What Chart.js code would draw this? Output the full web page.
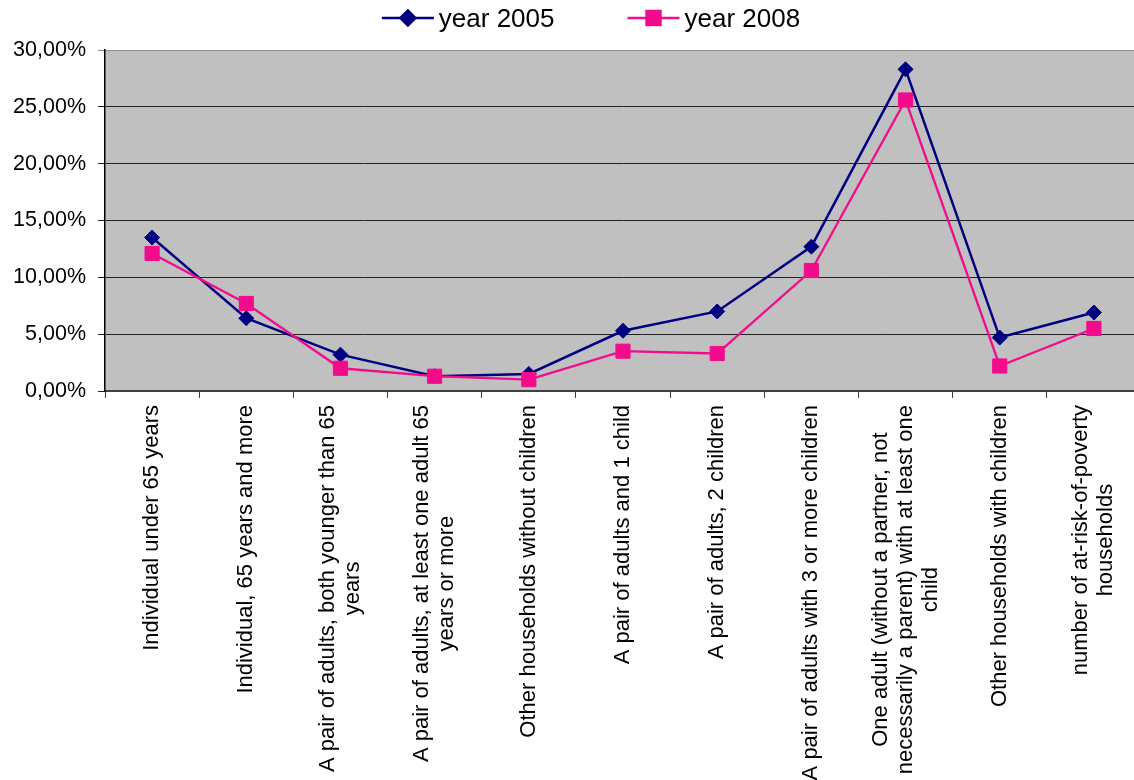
<!DOCTYPE html>
<html>
<head>
<meta charset="utf-8">
<title>At-risk-of-poverty rate by household type</title>
<script src="https://cdn.jsdelivr.net/npm/chart.js@4.4.1/dist/chart.umd.min.js"></script>
<style>
  html, body { margin: 0; padding: 0; background: #fff; overflow: hidden; }
  #wrap { width: 1141px; height: 780px; }
  canvas { display: block; }
</style>
</head>
<body>
<div id="wrap"><canvas id="chart" width="1141" height="780"></canvas></div>
<script>
// Household types (each entry is the wrapped label, one string per line)
const categories = [
  ["Individual under 65 years"],
  ["Individual, 65 years and more"],
  ["A pair of adults, both younger than 65", "years"],
  ["A pair of adults, at least one adult 65", "years or more"],
  ["Other households without children"],
  ["A pair of adults and 1 child"],
  ["A pair of adults, 2 children"],
  ["A pair of adults with 3 or more children"],
  ["One adult (without a partner, not", "necessarily a parent) with at least one", "child"],
  ["Other households with children"],
  ["number of at-risk-of-poverty", "households"]
];

// At-risk-of-poverty rate, in percent
const year2005 = [13.5, 6.4, 3.2, 1.3, 1.5, 5.3, 7.0, 12.7, 28.3, 4.7, 6.9];
const year2008 = [12.1, 7.7, 2.0, 1.3, 1.0, 3.5, 3.3, 10.6, 25.6, 2.2, 5.5];

const seriesNames = ["year 2005", "year 2008"];

// Value axis range and step
const yMin = 0;
const yMax = 30;
const yStep = 5;

const FONT = "Arial, 'Liberation Sans', sans-serif";
const NAVY = "#000080";
const PINK = "#F20C8C";

// Grey plot background
const plotBackground = {
  id: "plotBackground",
  beforeDraw(chart) {
    const { ctx, chartArea: a } = chart;
    ctx.save();
    ctx.fillStyle = "#C0C0C0";
    ctx.fillRect(a.left, a.top, a.right - a.left, a.bottom - a.top);
    ctx.restore();
  }
};

// Vertical category labels, lines centred on each other
const verticalLabels = {
  id: "verticalLabels",
  afterDraw(chart) {
    const { ctx } = chart;
    const xs = chart.scales.x;
    const top = xs.top + 14;
    const lineH = 25;
    ctx.save();
    ctx.font = "22px " + FONT;
    ctx.fillStyle = "#000";
    ctx.textAlign = "center";
    ctx.textBaseline = "middle";
    categories.forEach((lines, i) => {
      const x = xs.getPixelForValue(i);
      const w = Math.max(...lines.map(l => ctx.measureText(l).width));
      ctx.save();
      ctx.translate(x, top + w / 2);
      ctx.rotate(-Math.PI / 2);
      lines.forEach((l, j) => {
        ctx.fillText(l, 0, (j - (lines.length - 1) / 2) * lineH);
      });
      ctx.restore();
    });
    ctx.restore();
  }
};

// Legend: line sample with marker, then series name
const lineLegend = {
  id: "lineLegend",
  afterDraw(chart) {
    const { ctx } = chart;
    const sample = 52, gapText = 5, gapItem = 73;
    ctx.save();
    ctx.font = "26px " + FONT;
    const items = chart.data.datasets.map(ds => ({
      ds, w: sample + gapText + ctx.measureText(ds.label).width
    }));
    const total = items.reduce((s, it) => s + it.w, 0) + gapItem * (items.length - 1);
    let x = 591 - total / 2;
    const y = 18;
    items.forEach(({ ds, w }) => {
      ctx.strokeStyle = ds.borderColor;
      ctx.lineWidth = ds.borderWidth;
      ctx.beginPath();
      ctx.moveTo(x, y);
      ctx.lineTo(x + sample, y);
      ctx.stroke();
      ctx.fillStyle = ds.pointBackgroundColor;
      ctx.strokeStyle = ds.pointBorderColor;
      Chart.helpers.drawPoint(ctx, {
        pointStyle: ds.pointStyle, radius: ds.pointRadius, borderWidth: ds.pointBorderWidth, rotation: 0
      }, x + sample / 2, y);
      ctx.fillStyle = "#000";
      ctx.textAlign = "left";
      ctx.textBaseline = "alphabetic";
      ctx.fillText(ds.label, x + sample + gapText, 27);
      x += w + gapItem;
    });
    ctx.restore();
  }
};

new Chart(document.getElementById("chart"), {
  type: "line",
  data: {
    labels: categories.map(l => l.join(" ")),
    datasets: [
      {
        label: seriesNames[0],
        data: year2005,
        borderColor: NAVY,
        backgroundColor: NAVY,
        borderWidth: 2.5,
        pointStyle: "rectRot",
        pointRadius: 7.5,
        pointBorderWidth: 1,
        pointBackgroundColor: NAVY,
        pointBorderColor: NAVY,
        tension: 0,
        order: 2
      },
      {
        label: seriesNames[1],
        data: year2008,
        borderColor: PINK,
        backgroundColor: PINK,
        borderWidth: 2.3,
        pointStyle: "rect",
        pointRadius: 10,
        pointBorderWidth: 1,
        pointBackgroundColor: PINK,
        pointBorderColor: PINK,
        tension: 0,
        order: 1
      }
    ]
  },
  options: {
    responsive: false,
    animation: false,
    devicePixelRatio: 1,
    layout: { autoPadding: false, padding: { top: 50, left: 0, right: 0, bottom: 0 } },
    plugins: {
      legend: { display: false },
      tooltip: { enabled: false }
    },
    scales: {
      x: {
        type: "category",
        offset: true,
        grid: {
          offset: true,
          drawOnChartArea: false,
          drawTicks: true,
          tickLength: 7,
          color: "#404040",
          lineWidth: 1
        },
        border: { display: true, color: "#404040", width: 2 },
        ticks: { display: false },
        afterFit(s) { s.height = 389; }
      },
      y: {
        min: yMin,
        max: yMax,
        ticks: {
          stepSize: yStep,
          color: "#000",
          padding: 12,
          font: { family: FONT, size: 21.5 },
          callback: v => v.toFixed(2).replace(".", ",") + "%"
        },
        grid: {
          color: c => (c.tick && c.tick.value === yMax) ? "#8a8a8a" : "#222",
          lineWidth: 1,
          tickLength: 7,
          drawTicks: true
        },
        border: { display: true, color: "#000", width: 1.5 },
        afterFit(s) { s.width = 105; }
      }
    }
  },
  plugins: [plotBackground, verticalLabels, lineLegend]
});
</script>
</body>
</html>
